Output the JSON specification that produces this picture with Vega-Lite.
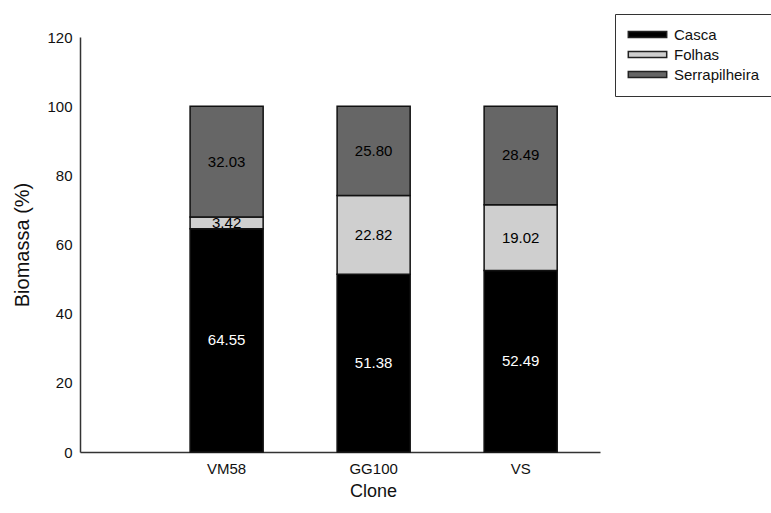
{
  "$schema": "https://vega.github.io/schema/vega-lite/v6.json",
  "width": 520,
  "height": 415,
  "autosize": "none",
  "padding": {"left": 80, "top": 37, "right": 171, "bottom": 61},
  "background": "white",
  "config": {
    "view": {"stroke": null},
    "font": "Liberation Sans",
    "axis": {"grid": false, "ticks": false, "domainColor": "#333", "domainWidth": 1.5, "labelColor": "#111", "titleColor": "#111", "labelFont": "Liberation Sans", "titleFont": "Liberation Sans", "titleFontWeight": "normal"}
  },
  "data": {
    "values": [
      {"clone": "VM58", "serie": "Casca", "valor": 64.55},
      {"clone": "VM58", "serie": "Folhas", "valor": 3.42},
      {"clone": "VM58", "serie": "Serrapilheira", "valor": 32.03},
      {"clone": "GG100", "serie": "Casca", "valor": 51.38},
      {"clone": "GG100", "serie": "Folhas", "valor": 22.82},
      {"clone": "GG100", "serie": "Serrapilheira", "valor": 25.80},
      {"clone": "VS", "serie": "Casca", "valor": 52.49},
      {"clone": "VS", "serie": "Folhas", "valor": 19.02},
      {"clone": "VS", "serie": "Serrapilheira", "valor": 28.49}
    ]
  },
  "encoding": {
    "x": {
      "field": "clone", "type": "nominal", "sort": ["VM58", "GG100", "VS"],
      "scale": {"paddingInner": 0.503, "paddingOuter": 0.52, "align": 0.72},
      "axis": {"title": "Clone", "labelAngle": 0, "labelFontSize": 15, "labelPadding": 9, "titleFontSize": 18, "titlePadding": 6, "titleX": 293, "titleAnchor": "start", "titleAlign": "center"}
    }
  },
  "layer": [
    {
      "mark": {"type": "bar", "stroke": "#111", "strokeWidth": 1.5},
      "encoding": {
        "y": {
          "field": "valor", "type": "quantitative", "stack": "zero",
          "scale": {"domain": [0, 120]},
          "axis": {"title": "Biomassa (%)", "values": [0, 20, 40, 60, 80, 100, 120], "labelFontSize": 15, "labelPadding": 8, "titleFontSize": 20, "titlePadding": 14}
        },
        "color": {
          "field": "serie", "type": "nominal",
          "scale": {"domain": ["Casca", "Folhas", "Serrapilheira"], "range": ["#000000", "#cfcfcf", "#666666"]},
          "legend": {
            "title": null, "orient": "none", "legendX": 535, "legendY": -23,
            "strokeColor": "#333", "padding": 13, "labelFontSize": 15, "labelColor": "#111",
            "symbolType": "M-3.2,-0.5H3.2V0.5H-3.2Z", "symbolSize": 144, "symbolStrokeColor": "#222", "symbolStrokeWidth": 1.5,
            "symbolOffset": 12, "rowPadding": 4, "labelOffset": 19
          }
        },
        "order": {"field": "serie", "type": "nominal", "sort": "ascending"}
      }
    },
    {
      "mark": {"type": "text", "fontSize": 15, "align": "center", "baseline": "middle"},
      "encoding": {
        "y": {"field": "valor", "type": "quantitative", "stack": "zero", "bandPosition": 0.5},
        "detail": {"field": "serie"},
        "order": {"field": "serie", "type": "nominal", "sort": "ascending"},
        "text": {"field": "valor", "type": "quantitative", "format": ".2f"},
        "color": {"condition": {"test": "datum.serie === 'Casca'", "value": "white"}, "value": "black"}
      }
    }
  ]
}
